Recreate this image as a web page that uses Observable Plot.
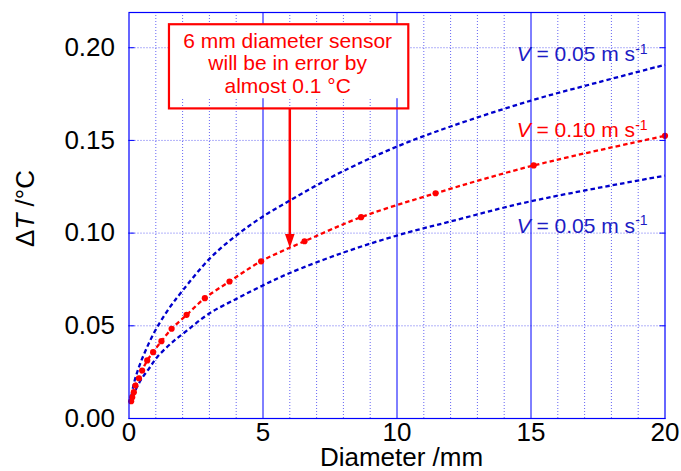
<!DOCTYPE html>
<html><head><meta charset="utf-8">
<script src="https://cdn.jsdelivr.net/npm/d3@7"></script>
<script src="https://cdn.jsdelivr.net/npm/@observablehq/plot@0.6"></script>
<style>
body{margin:0;background:#fff;}
svg{font-family:"Liberation Sans",Arial,sans-serif;}
</style>
</head><body><div id="chart"></div>
<script>
// ---- data ----
const xTicks = [0, 5, 10, 15, 20];
const xTickLabels = ["0", "5", "10", "15", "20"];
const yTicks = [0, 0.05, 0.10, 0.15, 0.20];
const yTickLabels = ["0.00", "0.05", "0.10", "0.15", "0.20"];
const minorX = [1, 2, 3, 4, 6, 7, 8, 9, 11, 12, 13, 14, 16, 17, 18, 19];
const majorX = [5, 10, 15];
const gridY = [0.05, 0.10, 0.15, 0.20];

// upper blue curve (V = 0.05 m/s, top)
const upperD = [0.04, 0.18, 0.37, 0.62, 1, 1.5, 2, 3, 4, 5, 6, 7, 8, 10, 12, 15, 17.5, 20];
const upperT = [0.008, 0.0187, 0.0277, 0.0367, 0.048, 0.0595, 0.069, 0.0861, 0.0987, 0.109, 0.1176, 0.1258, 0.1335, 0.1467, 0.1575, 0.1715, 0.1813, 0.1908];
// lower blue curve (V = 0.05 m/s, bottom)
const lowerD = [0.04, 0.18, 0.43, 0.74, 1.05, 1.55, 2.17, 2.98, 4, 5, 6, 8, 10, 12, 15, 20];
const lowerT = [0.008, 0.0133, 0.0205, 0.0268, 0.0331, 0.0403, 0.0475, 0.0565, 0.0645, 0.0718, 0.0785, 0.0895, 0.0987, 0.1063, 0.1172, 0.131];
// red curve with markers (V = 0.10 m/s)
const redD = [0.08, 0.12, 0.18, 0.24, 0.37, 0.49, 0.68, 0.90, 1.21, 1.59, 2.15, 2.83, 3.75, 4.93, 6.55, 8.66, 11.44, 15.1, 20];
const redT = [0.0093, 0.0115, 0.0142, 0.0178, 0.0217, 0.0259, 0.0313, 0.0358, 0.0417, 0.0484, 0.0559, 0.0649, 0.0739, 0.0848, 0.0956, 0.1086, 0.1215, 0.1365, 0.1525];

// annotation
const noteLines = "6 mm diameter sensor\nwill be in error by\nalmost 0.1 °C";
const noteBox = [{x1: 1.51, x2: 10.44, y1: 0.167, y2: 0.2124}];
const noteFill = [{x1: 1.51, x2: 10.44, y1: 0.1725, y2: 0.2124}];
const notePos = [{x: 5.92, y: 0.1755}];
const arrowX = 6;
const arrowTop = 0.167;
const arrowTip = 0.092;

const curveLabels = [
  {x: 19.35, y: 0.1963, text: "V = 0.05 m s", color: "#1c1cc4"},
  {x: 19.35, y: 0.1553, text: "V = 0.10 m s", color: "#ff0000"},
  {x: 19.35, y: 0.1036, text: "V = 0.05 m s", color: "#1c1cc4"}
];
const xTitle = "Diameter /mm";
const yTitle = "ΔT /°C";

const upper = upperD.map((d, i) => ({d, t: upperT[i]}));
const lower = lowerD.map((d, i) => ({d, t: lowerT[i]}));
const red = redD.map((d, i) => ({d, t: redT[i]}));

const BLUE = "#0000cc", RED = "#ff0000", FRAME = "#0000ff";
const dash = "4.5,3";

const arrowHead = {draw(ctx) { ctx.moveTo(0, 0); ctx.lineTo(-4.8, -14); ctx.lineTo(4.8, -14); ctx.closePath(); }};

const lineOpts = {x: "d", y: "t", strokeWidth: 2.3, strokeDasharray: dash, strokeLinecap: "butt", curve: "catmull-rom"};

const chart = Plot.plot({
  width: 681, height: 471,
  marginLeft: 128.5, marginRight: 16.5, marginTop: 12, marginBottom: 53,
  x: {domain: [0, 20]},
  y: {domain: [0, 0.219]},
  style: {background: "white", fontFamily: "'Liberation Sans', Arial, sans-serif"},
  marks: [
    Plot.ruleX(minorX, {stroke: "#3f3ff0", strokeDasharray: "1,2", strokeOpacity: 0.8}),
    Plot.ruleY(gridY, {stroke: "#3f3ff0", strokeDasharray: "1,2", strokeOpacity: 0.8}),
    Plot.ruleX(majorX, {stroke: FRAME, strokeWidth: 1}),
    Plot.rect(noteFill, {x1: "x1", x2: "x2", y1: "y1", y2: "y2", fill: "white"}),
    Plot.rect(noteBox, {x1: "x1", x2: "x2", y1: "y1", y2: "y2", fill: "none", stroke: RED, strokeWidth: 2.2}),
    Plot.text(notePos, {x: "x", y: "y", text: () => noteLines, fill: RED, fontSize: 21, lineAnchor: "bottom", lineHeight: 1.08, textAnchor: "middle"}),
    Plot.ruleX([arrowX], {y1: arrowTop, y2: arrowTip + 0.004, stroke: RED, strokeWidth: 2.5}),
    Plot.dot([{x: arrowX, y: arrowTip}], {x: "x", y: "y", symbol: arrowHead, r: 5, fill: RED, stroke: "none"}),
    Plot.line(upper, {...lineOpts, stroke: BLUE}),
    Plot.line(lower, {...lineOpts, stroke: BLUE}),
    Plot.line(red, {...lineOpts, stroke: RED}),
    Plot.dot(red, {x: "d", y: "t", r: 3.1, fill: RED, stroke: "none"}),
    Plot.text(curveLabels, {x: "x", y: "y", text: "text", fill: "color", fontSize: 21, textAnchor: "end", lineAnchor: "middle"}),
    Plot.frame({stroke: FRAME, strokeWidth: 1.2}),
    Plot.axisY(yTicks, {anchor: "left", tickSize: 6, dx: 6, fill: "none", stroke: FRAME, label: null}),
    Plot.axisY(yTicks, {anchor: "right", tickSize: 6, dx: -6, fill: "none", stroke: FRAME, label: null}),
    Plot.axisY(yTicks, {anchor: "left", tickSize: 0, tickPadding: 14, fontSize: 26, fill: "black", tickFormat: (d, i) => yTickLabels[i], label: null}),
    Plot.axisX(xTicks, {anchor: "bottom", tickSize: 0, tickPadding: 4, fontSize: 26, fill: "black", tickFormat: (d, i) => xTickLabels[i], label: null}),
    Plot.text([xTitle], {frameAnchor: "bottom", dy: 47.5, dx: 4.5, fontSize: 26, fill: "black", lineAnchor: "bottom", textAnchor: "middle"}),
    Plot.text([yTitle], {frameAnchor: "left", rotate: -90, dx: -95.5, dy: -7, fontSize: 26, fill: "black", lineAnchor: "bottom", textAnchor: "middle"})
  ]
});

// rich text: italic V and superscript -1, italic T
const svg = d3.select(chart);
svg.selectAll("text").each(function () {
  const t = this.textContent;
  if (t.startsWith("V = ")) {
    const el = d3.select(this);
    el.text(null);
    el.append("tspan").attr("font-style", "italic").text("V");
    el.append("tspan").text(t.slice(1));
    el.append("tspan").attr("font-size", 14).attr("dy", "-0.55em").text("-1");
  } else if (t === yTitle) {
    const el = d3.select(this);
    el.text(null);
    el.append("tspan").text("Δ");
    el.append("tspan").attr("font-style", "italic").text("T");
    el.append("tspan").text(" /°C");
  }
});
document.getElementById("chart").appendChild(chart);
</script>
</body></html>
